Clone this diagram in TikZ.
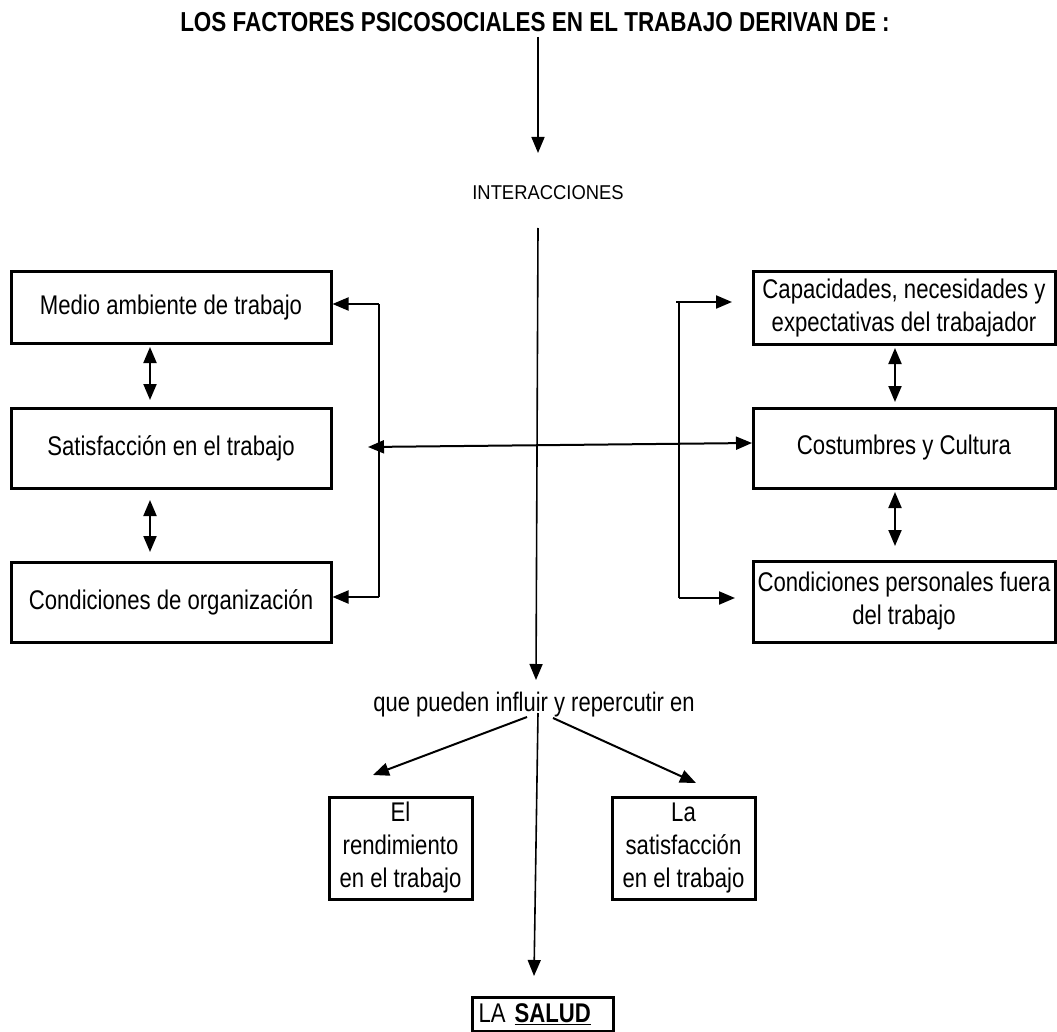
\documentclass[tikz,border=0pt]{standalone}
\usepackage{fontspec}
\setmainfont[FakeStretch=0.82]{Liberation Sans}
\newfontfamily\widesans[FakeStretch=0.92]{Liberation Sans}
\usetikzlibrary{arrows.meta}

\begin{document}
\begin{tikzpicture}[x=1pt,y=-1pt,
  box/.style={draw, line width=3pt, inner sep=0pt, align=center,
    font=\fontsize{27}{33}\selectfont},
  label/.style={inner sep=0pt, align=center},
  arr/.style={line width=2pt, -{Triangle[length=16pt,width=13pt]}},
  darr/.style={line width=2pt, {Triangle[length=16pt,width=13pt]}-{Triangle[length=16pt,width=13pt]}},
  rail/.style={line width=1.6pt},
]
\useasboundingbox (0,0) rectangle (1057,1032);

% headings and captions
\node[label, font=\fontsize{27.4}{30}\selectfont\bfseries] (title) at (535,22)
  {LOS FACTORES PSICOSOCIALES EN EL TRABAJO DERIVAN DE :};
\node[label, font=\widesans\fontsize{20}{24}\selectfont] (inter) at (548,193) {INTERACCIONES};
\node[label, font=\fontsize{26.8}{33}\selectfont] (que) at (534,705)
  {que pueden influir y repercutir en};

% left column
\node[box, minimum width=320pt, minimum height=71pt] (medio) at (171,307.5)
  {Medio ambiente de trabajo};
\node[box, minimum width=320pt, minimum height=80pt] (satis) at (171,448)
  {Satisfacción en el trabajo};
\node[box, minimum width=320pt, minimum height=80pt] (orga) at (171,602)
  {Condiciones de organización};

% right column
\node[box, minimum width=302pt, minimum height=72pt] (capac) at (904,308)
  {Capacidades, necesidades y\\expectativas del trabajador};
\node[box, minimum width=302pt, minimum height=80pt] (costu) at (904,448)
  {Costumbres y Cultura};
\node[box, minimum width=302pt, minimum height=81pt] (perso) at (904,601.5)
  {Condiciones personales fuera\\del trabajo};

% outcomes
\node[box, minimum width=143pt, minimum height=102pt] (rend) at (400.5,848)
  {El\\rendimiento\\en el trabajo};
\node[box, minimum width=143pt, minimum height=102pt] (lasat) at (683.5,848)
  {La\\satisfacción\\en el trabajo};
\node[box, minimum width=141pt, minimum height=34pt, text width=128pt, align=left] (salud) at (542.5,1014)
  {LA \textbf{\underline{SALUD}}};

% points on the connectors
\coordinate (t0) at (538,37);
\coordinate (t1) at (538,153);
\coordinate (c0) at (538,228);
\coordinate (c1) at (536,680);
\coordinate (lt) at (379,304);
\coordinate (lb) at (379,597);
\coordinate (rt) at (679,302);
\coordinate (rb) at (679,598);
\coordinate (rtEnd) at (732,302);
\coordinate (rbEnd) at (735,598);
\coordinate (hL) at (368,447);
\coordinate (hR) at (752,443);
\coordinate (dL0) at (527,717);
\coordinate (dL1) at (373,775);
\coordinate (dR0) at (553,718);
\coordinate (dR1) at (696,783);
\coordinate (s0) at (538,713);
\coordinate (s1) at (534,976);

% main vertical flow
\draw[arr, line width=1.6pt] (t0) -- (t1);
\draw[arr, line width=1.6pt] (c0) -- (c1);

% left bracket
\draw[rail] (lt) -- (lb);
\draw[arr] (lt) -- (lt -| medio.east);
\draw[arr] (lb) -- (lb -| orga.east);

% right bracket
\draw[rail] ([xshift=-3pt]rt) -- (rt) -- (rb);
\draw[arr] ([xshift=-1pt]rt) -- (rtEnd);
\draw[arr] (rb) -- (rbEnd);

% cross link between the middle boxes
\draw[darr] (hL) -- (hR);

% links within each column
\draw[darr] (150,347) -- (150,400);
\draw[darr] (150,500) -- (150,552);
\draw[darr] (895,348) -- (895,402);
\draw[darr] (895,492) -- (895,546);

% consequences
\draw[arr] (dL0) -- (dL1);
\draw[arr] (dR0) -- (dR1);
\draw[arr, line width=1.6pt] (s0) -- (s1);
\end{tikzpicture}
\end{document}
